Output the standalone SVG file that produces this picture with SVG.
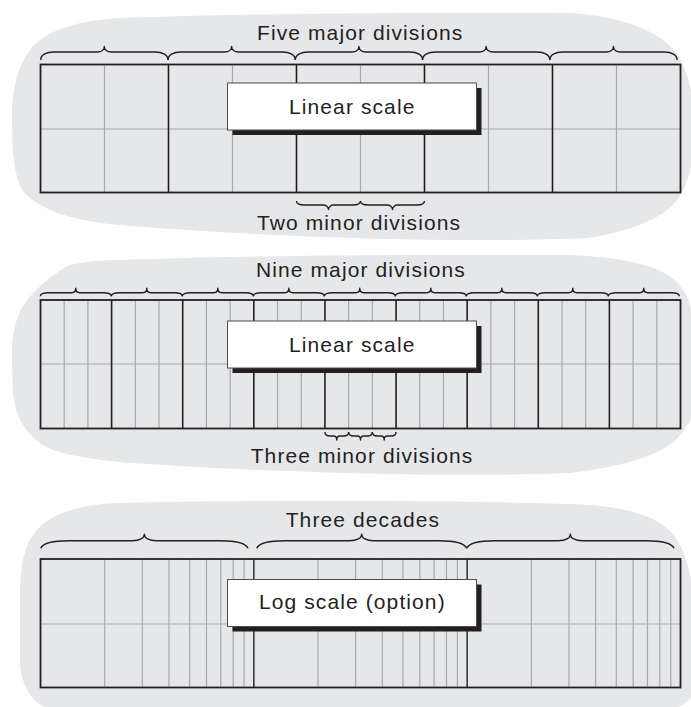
<svg xmlns="http://www.w3.org/2000/svg" xmlns:xlink="http://www.w3.org/1999/xlink" width="691" height="707" viewBox="0 0 691 707">
<style>
.blob{fill:#e6e7e8;stroke:none}
.minor{stroke:#a7a9ac;stroke-width:1.2;fill:none}
.major{stroke:#231f20;stroke-width:1.6;fill:none}
.border{stroke:#231f20;stroke-width:1.8;fill:none}
.brace{stroke:#231f20;stroke-width:1.4;fill:none;stroke-linejoin:round}
.box{fill:#ffffff;stroke:#4d4d4f;stroke-width:1}
.shadow{fill:#231f20}
.lbl{font-family:"Liberation Sans",Arial,Helvetica,sans-serif;font-size:21px;letter-spacing:1.1px;fill:#231f20}
</style>
<defs>
<path id="braceTop" d="M0,8 C0,3.2 5.2,0 13,0 L56.6,0 C60.8,0 63.6,-2.2 63.6,-5.5 C63.6,-2.2 66.4,0 70.6,0 L114.3,0 C122.1,0 127.3,3.2 127.3,8"/>
<path id="braceMid" d="M0,3.5 C0,1.4 3.2,0 8,0 L31.5,0 C33.9,0 35.5,-1.8 35.5,-4.5 C35.5,-1.8 37.1,0 39.5,0 L63,0 C67.8,0 71,1.4 71,3.5"/>
<path id="braceDec1" d="M0,7.5 C2,3 10,0 28,0 L91.65,0 C98.85,0 103.65,-2.6 103.65,-6.5 C103.65,-2.6 108.45,0 115.65,0 L179.3,0 C197.3,0 205.3,3 207.3,7.5"/>
<path id="braceDec2" d="M0,7.5 C2,3 10,0 28,0 L93,0 C100.2,0 105,-2.6 105,-6.5 C105,-2.6 109.8,0 117,0 L182,0 C200,0 208,3 210,7.5"/>
<path id="braceMinTop" d="M0,-4 C0,-1.6 3.2,0 8,0 L27,0 C29,0 32,1.8 32,4.5 C32,1.8 35,0 37,0 L56,0 C60.8,0 64,-1.6 64,-4"/>
<path id="braceMinMid" d="M0,-4 C0,-1.6 2,0 5,0 L8.85,0 C10.6,0 11.85,1.6 11.85,4 C11.85,1.6 13.1,0 14.85,0 L18.7,0 C21.7,0 23.7,-1.6 23.7,-4"/>
</defs>

<g id="panel-linear-5">
<path class="blob" d="M120,18 C250,13 450,12 571,13 C620,16 660,30 678,55 C690,75 694,100 694,130 C694,160 690,175 684,188 C675,210 650,228 588,238 C450,244 250,236 120,225 C80,222 40,212 22,190 C14,175 12,150 12,115 C12,90 18,65 30,50 C45,30 80,20 120,18 Z"/>
<g id="grid-top">
<path class="minor" d="M104.5,64.5V192.5 M232.5,64.5V192.5 M360.5,64.5V192.5 M488.5,64.5V192.5 M616.5,64.5V192.5 M40.5,129H680.5"/>
<path class="major" d="M168.5,64.5V192.5 M296.5,64.5V192.5 M424.5,64.5V192.5 M552.5,64.5V192.5"/>
<rect class="border" x="40.5" y="64.5" width="640" height="128"/>
</g>
<g id="braces-top">
<use xlink:href="#braceTop" class="brace" transform="translate(40.7,52)"/>
<use xlink:href="#braceTop" class="brace" transform="translate(168,52)"/>
<use xlink:href="#braceTop" class="brace" transform="translate(295.3,52)"/>
<use xlink:href="#braceTop" class="brace" transform="translate(422.5,52)"/>
<use xlink:href="#braceTop" class="brace" transform="translate(549.8,52)"/>
<use xlink:href="#braceMinTop" class="brace" transform="translate(296.5,205)"/>
<use xlink:href="#braceMinTop" class="brace" transform="translate(360.5,205)"/>
</g>
<text class="lbl" x="257" y="40">Five major divisions</text>
<g id="box-top">
<rect class="shadow" x="232.5" y="88" width="249" height="47"/>
<rect class="box" x="227.5" y="83" width="249" height="47"/>
<text class="lbl" x="289" y="113.5">Linear scale</text>
</g>
<text class="lbl" x="257" y="230">Two minor divisions</text>
</g>

<g id="panel-linear-9">
<path class="blob" d="M120,260 C250,255 450,254 571,255 C620,257 655,265 671,277 C684,288 694,300 694,340 L694,400 C694,415 690,422 686,427 C675,445 655,462 571,473 C450,478 250,472 120,462 C80,458 50,452 40,443 C25,432 14,415 13,390 C12,375 12,360 12,350 C12,335 15,323 20,312 C28,295 45,280 67,266 C80,262 100,260 120,260 Z"/>
<g id="grid-mid">
<path class="minor" d="M64.2,300V428.5 M87.91,300V428.5 M135.31,300V428.5 M159.02,300V428.5 M206.43,300V428.5 M230.13,300V428.5 M277.54,300V428.5 M301.24,300V428.5 M348.65,300V428.5 M372.35,300V428.5 M419.76,300V428.5 M443.46,300V428.5 M490.87,300V428.5 M514.57,300V428.5 M561.98,300V428.5 M585.69,300V428.5 M633.09,300V428.5 M656.8,300V428.5 M40.5,364H680.5"/>
<path class="major" d="M111.61,300V428.5 M182.72,300V428.5 M253.83,300V428.5 M324.94,300V428.5 M396.06,300V428.5 M467.17,300V428.5 M538.28,300V428.5 M609.39,300V428.5"/>
<rect class="border" x="40.5" y="300" width="640" height="128.5"/>
</g>
<g id="braces-mid">
<use xlink:href="#braceMid" class="brace" transform="translate(40.3,292.7)"/>
<use xlink:href="#braceMid" class="brace" transform="translate(111.3,292.7)"/>
<use xlink:href="#braceMid" class="brace" transform="translate(182.3,292.7)"/>
<use xlink:href="#braceMid" class="brace" transform="translate(253.3,292.7)"/>
<use xlink:href="#braceMid" class="brace" transform="translate(324.3,292.7)"/>
<use xlink:href="#braceMid" class="brace" transform="translate(395.3,292.7)"/>
<use xlink:href="#braceMid" class="brace" transform="translate(466.3,292.7)"/>
<use xlink:href="#braceMid" class="brace" transform="translate(537.3,292.7)"/>
<use xlink:href="#braceMid" class="brace" transform="translate(608.3,292.7)"/>
<use xlink:href="#braceMinMid" class="brace" transform="translate(324.94,436)"/>
<use xlink:href="#braceMinMid" class="brace" transform="translate(348.65,436)"/>
<use xlink:href="#braceMinMid" class="brace" transform="translate(372.35,436)"/>
</g>
<text class="lbl" x="256" y="277.3">Nine major divisions</text>
<g id="box-mid">
<rect class="shadow" x="232.5" y="326" width="249" height="47"/>
<rect class="box" x="227.5" y="321" width="249" height="47"/>
<text class="lbl" x="289" y="351.5">Linear scale</text>
</g>
<text class="lbl" x="250.7" y="462.7">Three minor divisions</text>
</g>

<g id="panel-log">
<path class="blob" d="M120,503 C250,500 450,500 571,504 C630,506 666,517 680,545 C690,565 694,590 694,620 L694,690 C692,705 670,714 640,714 L80,714 C45,714 24,702 20,665 L20,600 C20,565 24,545 37,530 C50,514 80,504 120,503 Z"/>
<g id="grid-log">
<path class="minor" d="M104.72,559V687.5 M142.29,559V687.5 M168.94,559V687.5 M189.62,559V687.5 M206.5,559V687.5 M220.79,559V687.5 M233.16,559V687.5 M244.07,559V687.5 M318.05,559V687.5 M355.62,559V687.5 M382.27,559V687.5 M402.95,559V687.5 M419.83,559V687.5 M434.12,559V687.5 M446.49,559V687.5 M457.4,559V687.5 M531.39,559V687.5 M568.96,559V687.5 M595.61,559V687.5 M616.29,559V687.5 M633.17,559V687.5 M647.46,559V687.5 M659.83,559V687.5 M670.74,559V687.5 M40.5,624H680.5"/>
<path class="major" d="M253.83,559V687.5 M467.17,559V687.5" style="stroke:#3a3a3c"/>
<rect class="border" x="40.5" y="559" width="640" height="128.5"/>
</g>
<g id="braces-log">
<use xlink:href="#braceDec1" class="brace" transform="translate(40.7,540.7)"/>
<use xlink:href="#braceDec2" class="brace" transform="translate(256.7,540.7)"/>
<use xlink:href="#braceDec1" class="brace" transform="translate(466.7,540.7)"/>
</g>
<text class="lbl" x="285.7" y="526.7">Three decades</text>
<g id="box-log">
<rect class="shadow" x="232.5" y="584.5" width="249" height="47"/>
<rect class="box" x="227.5" y="579.5" width="249" height="47"/>
<text class="lbl" x="259" y="609.3">Log scale (option)</text>
</g>
</g>
</svg>
